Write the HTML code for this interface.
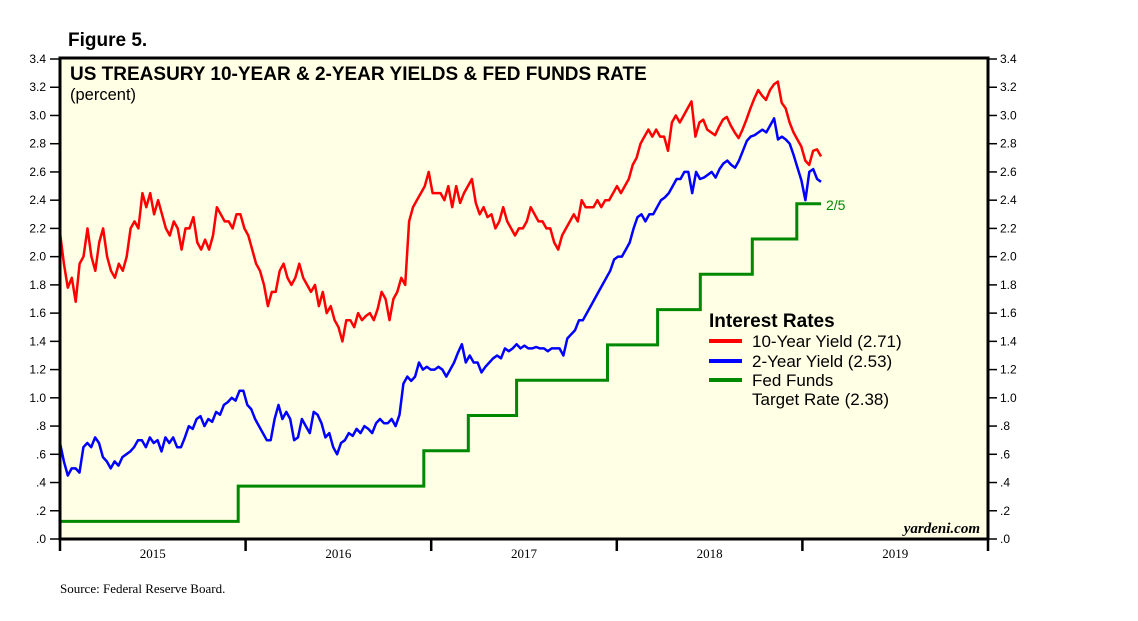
<!DOCTYPE html>
<html><head><meta charset="utf-8"><style>
body{margin:0;background:#fff;width:1138px;height:621px;overflow:hidden}
svg{display:block}
</style></head><body>
<svg id="chart" width="1138" height="621" xmlns="http://www.w3.org/2000/svg">
<text x="68" y="46" font-family="Liberation Sans, sans-serif" font-weight="bold" font-size="19">Figure 5.</text>
<rect x="60" y="58" width="928" height="481" fill="#ffffe6"/>
<g id="grid"></g>
<g id="series"></g>
<rect x="60" y="58" width="928" height="481" fill="none" stroke="#000" stroke-width="3"/>
<text x="70" y="80" font-family="Liberation Sans, sans-serif" font-weight="bold" font-size="19">US TREASURY 10-YEAR &amp; 2-YEAR YIELDS &amp; FED FUNDS RATE</text>
<text x="70" y="100" font-family="Liberation Sans, sans-serif" font-size="16.5">(percent)</text>
<text x="980" y="533" text-anchor="end" font-family="Liberation Serif, serif" font-style="italic" font-weight="bold" font-size="15">yardeni.com</text>
<g font-family="Liberation Sans, sans-serif">
<text x="709" y="327" font-weight="bold" font-size="19">Interest Rates</text>
<line x1="709" y1="341" x2="742" y2="341" stroke="#f00" stroke-width="4"/>
<text x="752" y="347" font-size="17">10-Year Yield (2.71)</text>
<line x1="709" y1="361" x2="742" y2="361" stroke="#00f" stroke-width="4"/>
<text x="752" y="367" font-size="17">2-Year Yield (2.53)</text>
<line x1="709" y1="380" x2="742" y2="380" stroke="#080" stroke-width="4"/>
<text x="752" y="386" font-size="17">Fed Funds</text>
<text x="752" y="405" font-size="17">Target Rate (2.38)</text>
</g>
<text x="826" y="210" font-family="Liberation Sans, sans-serif" font-size="14" fill="#080">2/5</text>
<text x="60" y="593" font-family="Liberation Serif, serif" font-size="13">Source: Federal Reserve Board.</text>
</svg>
<script>
const yTicks=[0,0.2,0.4,0.6,0.8,1.0,1.2,1.4,1.6,1.8,2.0,2.2,2.4,2.6,2.8,3.0,3.2,3.4];
const yTickLabels=[".0",".2",".4",".6",".8","1.0","1.2","1.4","1.6","1.8","2.0","2.2","2.4","2.6","2.8","3.0","3.2","3.4"];
const years=["2015","2016","2017","2018","2019"];
const seriesStart=0;   // years since Jan 1 2015
const seriesEnd=4.1;   // Feb 5 2019
const tenYear=[2.17,1.95,1.78,1.85,1.68,1.95,2.0,2.2,2.0,1.9,2.1,2.2,2.0,1.9,1.85,1.95,1.9,2.0,2.2,2.25,2.2,2.45,2.35,2.45,2.3,2.4,2.3,2.2,2.15,2.25,2.2,2.05,2.2,2.2,2.28,2.1,2.05,2.12,2.05,2.15,2.35,2.3,2.25,2.25,2.2,2.3,2.3,2.2,2.15,2.05,1.95,1.9,1.8,1.65,1.75,1.75,1.9,1.95,1.85,1.8,1.85,1.95,1.85,1.8,1.75,1.8,1.65,1.75,1.6,1.65,1.55,1.5,1.4,1.55,1.55,1.5,1.6,1.55,1.58,1.6,1.55,1.63,1.75,1.7,1.55,1.7,1.75,1.85,1.8,2.25,2.35,2.4,2.45,2.5,2.6,2.45,2.45,2.45,2.4,2.5,2.35,2.5,2.38,2.45,2.5,2.55,2.38,2.3,2.35,2.28,2.3,2.2,2.25,2.35,2.25,2.2,2.15,2.2,2.2,2.25,2.35,2.3,2.25,2.25,2.2,2.2,2.1,2.05,2.15,2.2,2.25,2.3,2.25,2.4,2.35,2.35,2.35,2.4,2.35,2.4,2.4,2.45,2.5,2.45,2.5,2.55,2.65,2.7,2.8,2.85,2.9,2.85,2.9,2.85,2.85,2.75,2.95,3.0,2.95,3.0,3.05,3.1,2.85,2.95,2.97,2.9,2.88,2.86,2.92,2.97,2.99,2.93,2.88,2.84,2.9,2.97,3.05,3.12,3.18,3.14,3.11,3.18,3.22,3.24,3.09,3.05,2.95,2.88,2.83,2.78,2.68,2.65,2.75,2.76,2.71];
const twoYear=[0.68,0.55,0.45,0.5,0.5,0.47,0.65,0.68,0.65,0.72,0.68,0.58,0.55,0.5,0.55,0.52,0.58,0.6,0.62,0.65,0.7,0.7,0.65,0.72,0.68,0.7,0.62,0.72,0.68,0.72,0.65,0.65,0.72,0.8,0.78,0.85,0.87,0.8,0.85,0.83,0.9,0.88,0.95,0.97,1.0,0.98,1.05,1.05,0.95,0.92,0.85,0.8,0.75,0.7,0.7,0.85,0.95,0.85,0.9,0.85,0.7,0.72,0.85,0.8,0.75,0.9,0.88,0.82,0.72,0.75,0.65,0.6,0.68,0.7,0.75,0.73,0.78,0.75,0.8,0.78,0.75,0.82,0.85,0.82,0.82,0.85,0.8,0.88,1.1,1.15,1.12,1.15,1.25,1.2,1.22,1.2,1.2,1.22,1.2,1.15,1.2,1.25,1.32,1.38,1.25,1.3,1.25,1.25,1.18,1.22,1.25,1.28,1.3,1.28,1.35,1.33,1.35,1.38,1.35,1.37,1.35,1.35,1.36,1.35,1.35,1.33,1.35,1.35,1.35,1.3,1.42,1.45,1.48,1.55,1.55,1.6,1.65,1.7,1.75,1.8,1.85,1.9,1.98,2.0,2.0,2.05,2.1,2.2,2.28,2.3,2.25,2.3,2.3,2.35,2.4,2.42,2.45,2.5,2.55,2.55,2.6,2.6,2.45,2.6,2.55,2.56,2.58,2.6,2.56,2.62,2.66,2.68,2.65,2.63,2.68,2.75,2.82,2.85,2.86,2.88,2.9,2.88,2.93,2.98,2.83,2.85,2.83,2.8,2.72,2.63,2.54,2.4,2.6,2.62,2.55,2.53];
const fedDates=[0,0.96,1.96,2.2,2.46,2.95,3.22,3.45,3.73,3.97];
const fedRates=[0.125,0.375,0.625,0.875,1.125,1.375,1.625,1.875,2.125,2.375];

const X0=60,X1=988,Y0=539,Y1=59;
const xs=t=>X0+t/5*(X1-X0);
const ys=v=>Y0-v/3.4*(Y0-Y1);
const NS="http://www.w3.org/2000/svg";
const svg=document.getElementById('chart');
const ser=document.getElementById('series');
function mk(tag,attrs,parent){const e=document.createElementNS(NS,tag);for(const k in attrs)e.setAttribute(k,attrs[k]);parent.appendChild(e);return e;}
yTicks.forEach((v,i)=>{
  const y=ys(v);
  const l=mk('line',{x1:50,x2:60,y1:y,y2:y,stroke:'#000','stroke-width':1.5},svg);
  
  
  const r=mk('line',{x1:988,x2:997,y1:y,y2:y,stroke:'#000','stroke-width':1.5},svg);
  
  
  const t=mk('text',{x:46,y:y+4,'text-anchor':'end','font-family':'Liberation Sans, sans-serif','font-size':12},svg);
  t.textContent=yTickLabels[i];
  
  
  const t2=mk('text',{x:1000,y:y+4,'font-family':'Liberation Sans, sans-serif','font-size':12},svg);
  t2.textContent=yTickLabels[i];
  
  
});
for(let i=0;i<=years.length;i++){
  const x=xs(i);
  const l=mk('line',{x1:x,x2:x,y1:539,y2:551,stroke:'#000','stroke-width':2.5},svg);
  
  
}
years.forEach((y,i)=>{
  const t=mk('text',{x:xs(i+0.5),y:558,'text-anchor':'middle','font-family':'Liberation Serif, serif','font-size':13},svg);
  t.textContent=y;
  
  
});
function linePath(vals){
  const step=(seriesEnd-seriesStart)/(vals.length-1);
  return vals.map((v,i)=>(i?'L':'M')+xs(seriesStart+i*step).toFixed(1)+','+ys(v).toFixed(1)).join('');
}
let d='';
fedRates.forEach((v,i)=>{
  const a=fedDates[i], b=i+1<fedDates.length?fedDates[i+1]:seriesEnd;
  d+=(i?'L':'M')+xs(a).toFixed(1)+','+ys(v).toFixed(1)+'L'+xs(b).toFixed(1)+','+ys(v).toFixed(1);
});
const pf=mk('path',{d:d,fill:'none',stroke:'#080','stroke-width':3},ser);


const p10=mk('path',{d:linePath(tenYear),fill:'none',stroke:'#f00','stroke-width':2.5,'stroke-linejoin':'round'},ser);


const p2=mk('path',{d:linePath(twoYear),fill:'none',stroke:'#00f','stroke-width':2.5,'stroke-linejoin':'round'},ser);


</script>
</body></html>
